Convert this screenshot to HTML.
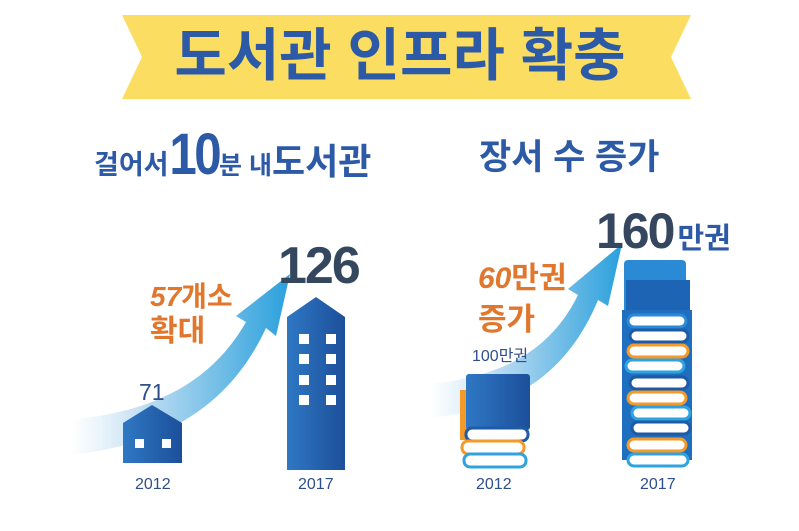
<!DOCTYPE html>
<html><head><meta charset="utf-8"><style>
html,body{margin:0;padding:0;background:#fff}
#c{position:relative;width:799px;height:531px;overflow:hidden;font-family:"Liberation Sans","Noto Sans CJK KR",sans-serif}
.t{position:absolute;white-space:nowrap;line-height:1}
</style></head><body><div id="c">
<svg width="799" height="531" style="position:absolute;left:0;top:0">
<defs>
<linearGradient id="bl" x1="0" x2="1"><stop offset="0" stop-color="#2f78c4"/><stop offset="1" stop-color="#1c4f9a"/></linearGradient>
<linearGradient id="ar" x1="0" x2="1" y1="0" y2="0"><stop offset="0" stop-color="#cfe6f6" stop-opacity="0"/><stop offset="0.35" stop-color="#bcdcf2"/><stop offset="1" stop-color="#2aa0dc"/></linearGradient>
</defs>
<polygon points="122,15 691,15 671,57 691,99 122,99 142,57" fill="#fbde61"/>
<path d="M70,420 C150,412 210,385 246,322 L236,316 L290,274 L276,336 L266,328 C228,410 160,445 70,455 Z" fill="url(#ar)"/>
<path d="M430,384 C500,377 550,352 578,295 L568,289 L622,244 L608,306 L598,300 C565,380 505,410 430,418 Z" fill="url(#ar)"/>
<polygon points="123,423 152,405 182,423 182,463 123,463" fill="url(#bl)"/>
<rect x="135" y="439" width="9" height="9" fill="#fff"/><rect x="162" y="439" width="9" height="9" fill="#fff"/>
<polygon points="287,317 316,297 345,317 345,470 287,470" fill="url(#bl)"/>
<g fill="#fff">
<rect x="299" y="334" width="10" height="10"/><rect x="326" y="334" width="10" height="10"/>
<rect x="299" y="354" width="10" height="10"/><rect x="326" y="354" width="10" height="10"/>
<rect x="299" y="375" width="10" height="10"/><rect x="326" y="375" width="10" height="10"/>
<rect x="299" y="395" width="10" height="10"/><rect x="326" y="395" width="10" height="10"/>
</g>
<rect x="460" y="390" width="8" height="50" fill="#f39a2a"/>
<rect x="466" y="374" width="64" height="56" rx="3" fill="url(#bl)"/>
<rect x="466" y="428" width="62" height="13" rx="6" fill="#fff" stroke="#1e5aa6" stroke-width="3"/>
<rect x="462" y="441" width="62" height="13" rx="6" fill="#fff" stroke="#f39a2a" stroke-width="3"/>
<rect x="464" y="454" width="62" height="13" rx="6" fill="#fff" stroke="#2fa3e0" stroke-width="3"/>
<rect x="624" y="260" width="62" height="60" rx="4" fill="#2a8ad6"/>
<rect x="626" y="280" width="64" height="40" fill="#1e64b4"/>
<rect x="622" y="310" width="70" height="150" fill="#1f6fc0"/>
<g stroke-width="3" fill="#fff">
<rect x="628" y="315" width="58" height="12" rx="6" stroke="#2a8ad6"/>
<rect x="630" y="330" width="58" height="12" rx="6" stroke="#1e5aa6"/>
<rect x="628" y="345" width="60" height="12" rx="6" stroke="#f39a2a"/>
<rect x="626" y="360" width="58" height="12" rx="6" stroke="#2fa3e0"/>
<rect x="630" y="377" width="58" height="12" rx="6" stroke="#1e5aa6"/>
<rect x="628" y="392" width="58" height="12" rx="6" stroke="#f39a2a"/>
<rect x="632" y="407" width="58" height="12" rx="6" stroke="#2fa3e0"/>
<rect x="632" y="422" width="58" height="12" rx="6" stroke="#1e5aa6"/>
<rect x="628" y="439" width="58" height="12" rx="6" stroke="#f39a2a"/>
<rect x="628" y="454" width="60" height="12" rx="6" stroke="#2fa3e0"/>
</g>
</svg>
<div class="t" style="left:0;width:800px;text-align:center;top:28px;font-size:57px;font-weight:bold;color:#2d5aa6">도서관 인프라 확충</div>
<div class="t" style="left:94px;top:126px;color:#2d5aa6;font-weight:bold"><span style="font-size:27px">걸어서</span><span style="font-size:58px;letter-spacing:-3px;display:inline-block;transform:scaleX(0.85);margin:0 -4px">10</span><span style="font-size:25px">분 내</span><span style="font-size:36px">도서관</span></div>
<div class="t" style="left:479px;top:140px;font-size:35px;font-weight:bold;color:#2d5aa6">장서 수 증가</div>
<div class="t" style="left:278px;top:240px;font-size:52px;font-weight:bold;color:#34475f;letter-spacing:-2px">126</div>
<div class="t" style="left:150px;top:283px;font-size:28px;font-weight:bold;color:#e0772c"><i>57</i>개소</div>
<div class="t" style="left:150px;top:317px;font-size:30px;font-weight:bold;color:#e0772c">확대</div>
<div class="t" style="left:139px;top:381px;font-size:23px;color:#2d4f8c">71</div>
<div class="t" style="left:135px;top:477px;font-size:16px;color:#2d4f8c">2012</div>
<div class="t" style="left:298px;top:477px;font-size:16px;color:#2d4f8c">2017</div>
<div class="t" style="left:596px;top:206px;font-size:50px;font-weight:bold;color:#34475f;letter-spacing:-2px">160<span style="font-size:29px;color:#2d5aa6;letter-spacing:0;margin-left:4px">만권</span></div>
<div class="t" style="left:478px;top:264px;font-size:30px;font-weight:bold;color:#e0772c"><i>60</i>만권</div>
<div class="t" style="left:478px;top:304px;font-size:31px;font-weight:bold;color:#e0772c">증가</div>
<div class="t" style="left:472px;top:349px;font-size:16px;color:#2d4f8c">100만권</div>
<div class="t" style="left:476px;top:477px;font-size:16px;color:#2d4f8c">2012</div>
<div class="t" style="left:640px;top:477px;font-size:16px;color:#2d4f8c">2017</div>
</div></body></html>
